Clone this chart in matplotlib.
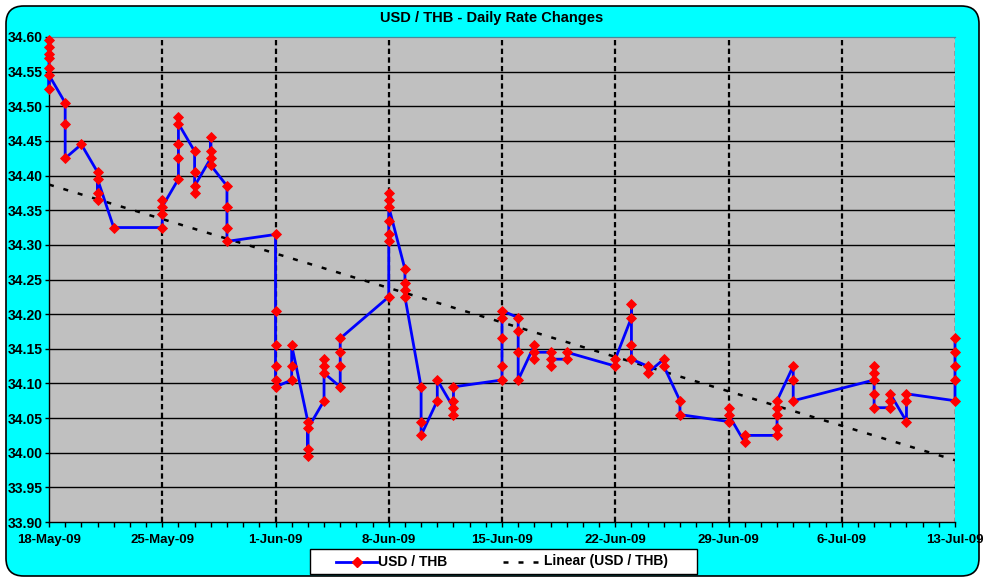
import matplotlib
matplotlib.use('Agg')
import matplotlib.pyplot as plt
import matplotlib.dates as mdates
from matplotlib.patches import FancyBboxPatch, Rectangle
from matplotlib.lines import Line2D
import numpy as np
import datetime as dt

plt.rcParams['font.family'] = ['Liberation Sans', 'DejaVu Sans']
plt.rcParams['font.weight'] = 'bold'

# ---- data ----
day_dates = ['2009-05-18', '2009-05-19', '2009-05-20', '2009-05-21', '2009-05-22',
             '2009-05-25', '2009-05-26', '2009-05-27', '2009-05-28', '2009-05-29',
             '2009-06-01', '2009-06-02', '2009-06-03', '2009-06-04', '2009-06-05',
             '2009-06-08', '2009-06-09', '2009-06-10', '2009-06-11', '2009-06-12',
             '2009-06-15', '2009-06-16', '2009-06-17', '2009-06-18', '2009-06-19',
             '2009-06-22', '2009-06-23', '2009-06-24', '2009-06-25', '2009-06-26',
             '2009-06-29', '2009-06-30', '2009-07-02', '2009-07-03',
             '2009-07-08', '2009-07-09', '2009-07-10', '2009-07-13']
day_rates = [
    [34.595, 34.585, 34.575, 34.570, 34.555, 34.525, 34.545],
    [34.505, 34.475, 34.425],
    [34.445],
    [34.405, 34.365, 34.375, 34.395],
    [34.325],
    [34.325, 34.365, 34.345, 34.355],
    [34.395, 34.425, 34.445, 34.485, 34.475],
    [34.435, 34.405, 34.375, 34.385],
    [34.425, 34.455, 34.435, 34.415],
    [34.385, 34.355, 34.325, 34.305],
    [34.315, 34.205, 34.155, 34.125, 34.105, 34.095],
    [34.105, 34.125, 34.155],
    [34.045, 34.005, 33.995, 34.035],
    [34.075, 34.135, 34.125, 34.115],
    [34.095, 34.125, 34.145, 34.165],
    [34.225, 34.305, 34.315, 34.335, 34.375, 34.365, 34.355],
    [34.265, 34.245, 34.235, 34.225],
    [34.095, 34.045, 34.025],
    [34.075, 34.105],
    [34.065, 34.055, 34.075, 34.095],
    [34.105, 34.125, 34.165, 34.195, 34.205],
    [34.195, 34.175, 34.145, 34.105],
    [34.155, 34.135, 34.145],
    [34.145, 34.125, 34.135],
    [34.135, 34.145],
    [34.125, 34.135],
    [34.195, 34.215, 34.155, 34.135],
    [34.125, 34.115],
    [34.135, 34.125],
    [34.075, 34.055],
    [34.045, 34.065, 34.055],
    [34.015, 34.025],
    [34.025, 34.035, 34.055, 34.065, 34.075],
    [34.125, 34.105, 34.075],
    [34.105, 34.125, 34.115, 34.085, 34.065],
    [34.065, 34.075, 34.085],
    [34.045, 34.075, 34.085],
    [34.075, 34.105, 34.125, 34.145, 34.165],
]
tick_dates = ['2009-05-18', '2009-05-25', '2009-06-01', '2009-06-08', '2009-06-15',
              '2009-06-22', '2009-06-29', '2009-07-06', '2009-07-13']
tick_labels = ['18-May-09', '25-May-09', '1-Jun-09', '8-Jun-09', '15-Jun-09',
               '22-Jun-09', '29-Jun-09', '6-Jul-09', '13-Jul-09']
y_ticks = [33.90, 33.95, 34.00, 34.05, 34.10, 34.15, 34.20, 34.25, 34.30,
           34.35, 34.40, 34.45, 34.50, 34.55, 34.60]
series_name = 'USD / THB'
trend_name = 'Linear (USD / THB)'
title = 'USD / THB - Daily Rate Changes'

# ---- flatten ----
xs, ys = [], []
for d, vals in zip(day_dates, day_rates):
    for v in vals:
        xs.append(mdates.date2num(dt.datetime.strptime(d, '%Y-%m-%d')))
        ys.append(v)
xs = np.array(xs)
ys = np.array(ys)
tick_x = [mdates.date2num(dt.datetime.strptime(d, '%Y-%m-%d')) for d in tick_dates]

W, H = 983, 581
fig = plt.figure(figsize=(W / 100, H / 100), dpi=100, facecolor='white')

# rounded cyan chart area
bg = FancyBboxPatch((6 / W, 5 / H), (973) / W, (570) / H,
                    boxstyle='round,pad=0,rounding_size=0.018',
                    transform=fig.transFigure, facecolor='#00FFFF',
                    edgecolor='black', linewidth=1.2, zorder=-10,
                    mutation_aspect=W / H)
fig.patches.append(bg)

ax = fig.add_axes([49 / W, (H - 522) / H, 906 / W, 485 / H])
ax.set_zorder(1)
ax.set_facecolor('#C0C0C0')
ax.set_xlim(tick_x[0], tick_x[-1])
ax.set_ylim(y_ticks[0], y_ticks[-1])

# horizontal grid
for yv in y_ticks[1:-1]:
    ax.axhline(yv, color='black', lw=1.0, zorder=1)
# vertical week lines
for xv in tick_x[1:-1]:
    ax.axvline(xv, color='black', lw=1.6, dashes=(2.4, 1.5), zorder=1)
ax.axvline(tick_x[-1], color='black', lw=1.0, dashes=(3.5, 2.5), zorder=1)

# trend line
coef = np.polyfit(xs, ys, 1)
tx = np.array([tick_x[0], tick_x[-1]])
ax.plot(tx, np.polyval(coef, tx), color='black', lw=1.8, dashes=(2.0, 4.0), zorder=2)

# series
ax.plot(xs, ys, color='#0000FF', lw=2.0, zorder=3, clip_on=False)
ax.plot(xs, ys, linestyle='none', marker='D', markersize=5.2,
        markerfacecolor='#FF0000', markeredgecolor='#FF0000', markeredgewidth=0.6,
        zorder=4, clip_on=False)

# axes styling
ax.spines['right'].set_visible(False)
ax.spines['top'].set_color('#4A8A9A')
ax.spines['top'].set_linewidth(0.9)
ax.spines['left'].set_linewidth(1.0)
ax.spines['bottom'].set_linewidth(1.0)

ax.set_xticks(tick_x)
ax.set_xticklabels(tick_labels, fontsize=9.5, fontweight='bold')
ax.set_xticks(np.arange(tick_x[0], tick_x[-1] + 0.5, 1.0), minor=True)
ax.tick_params(axis='x', which='both', direction='out', length=3.5, width=1.0, pad=5)
ax.set_yticks(y_ticks)
ax.set_yticklabels([f'{v:.2f}' for v in y_ticks], fontsize=10, fontweight='bold')
ax.tick_params(axis='y', direction='out', length=3, width=1.0, pad=1.5)

fig.text(0.5, (H - 18) / H, title, ha='center', va='center', fontsize=10.5,
         fontweight='bold')

# legend (drawn manually to match the reference box layout)
def fx(px):
    return px / W

def fy(py):
    return (H - py) / H

ly = 561.5
fig.patches.append(Rectangle((fx(310), fy(574)), fx(697) - fx(310), fy(549) - fy(574),
                             transform=fig.transFigure, facecolor='white',
                             edgecolor='black', linewidth=1.0, zorder=5))
fig.lines.append(Line2D([fx(336), fx(377)], [fy(ly), fy(ly)], transform=fig.transFigure,
                        color='#0000FF', lw=2.0, zorder=6))
fig.lines.append(Line2D([fx(356.5)], [fy(ly)], transform=fig.transFigure,
                        linestyle='none', marker='D', markersize=5.0,
                        markerfacecolor='#FF0000', markeredgecolor='#FF0000', zorder=7))
fig.text(fx(378), fy(ly + 4), series_name, ha='left', va='baseline', fontsize=10,
         fontweight='bold', zorder=7)
fig.lines.append(Line2D([fx(503), fx(543)], [fy(ly), fy(ly)], transform=fig.transFigure,
                        color='black', lw=1.8, dashes=(2.0, 4.0), zorder=6))
fig.text(fx(544), fy(ly + 4), trend_name, ha='left', va='baseline', fontsize=10,
         fontweight='bold', zorder=7)

fig.savefig('out.png', dpi=100, facecolor='white')
